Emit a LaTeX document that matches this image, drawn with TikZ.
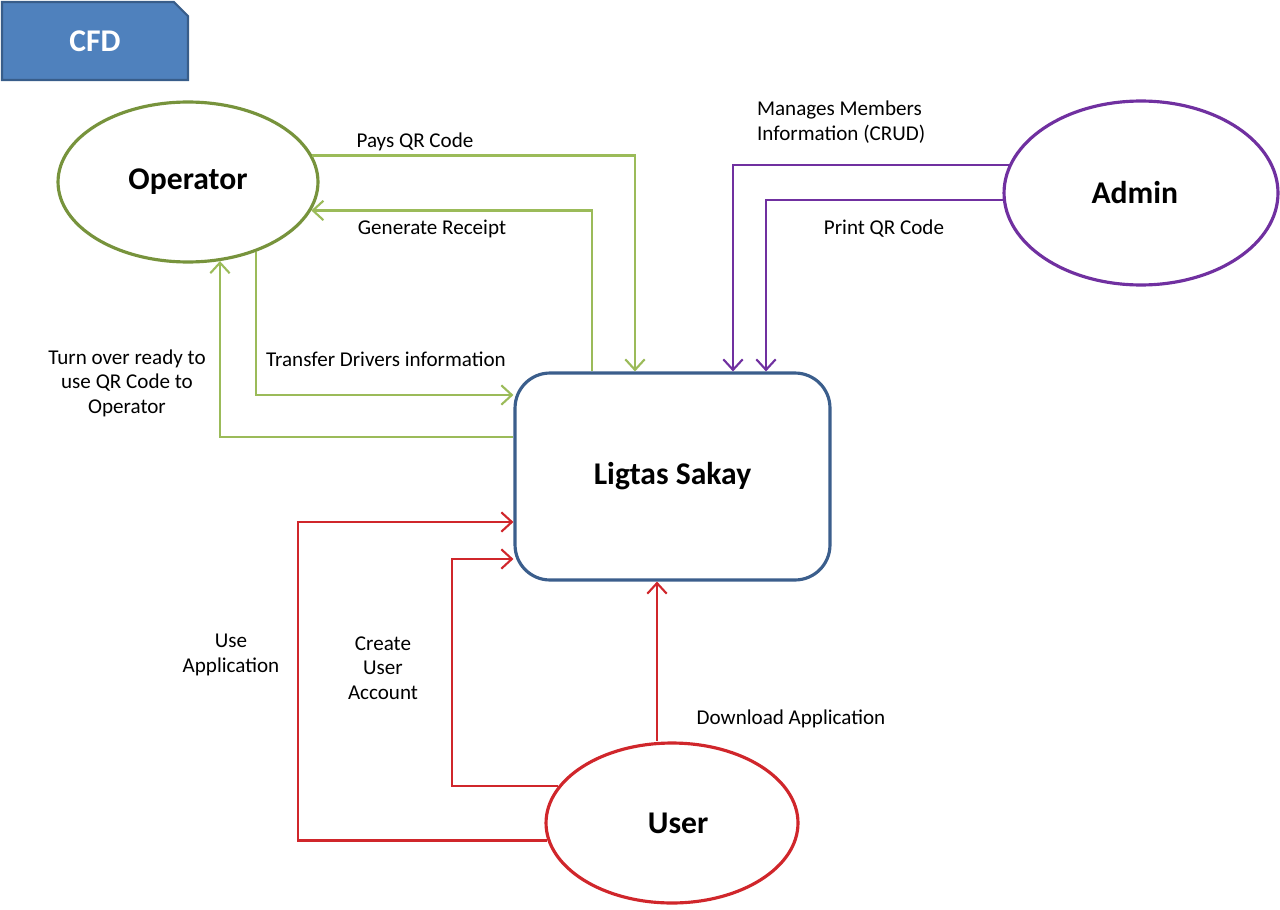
\documentclass[tikz,border=0pt]{standalone}
\usepackage{fontspec}
\setmainfont{Carlito}
\usetikzlibrary{shapes.geometric, shapes.misc, arrows.meta, positioning}
\usepackage{xcolor}
\definecolor{tabBlue}{HTML}{4F81BD}
\definecolor{tabEdge}{HTML}{385D8A}
\definecolor{boxEdge}{HTML}{3B5E8C}
\definecolor{opGreen}{HTML}{77933C}
\definecolor{lineGreen}{HTML}{9BBB59}
\definecolor{admPurple}{HTML}{7030A0}
\definecolor{usrRed}{HTML}{D0262B}
\tikzset{
    >={Straight Barb[length=6pt, width=11pt]},
    % Shapes
    tab/.style={chamfered rectangle, chamfered rectangle corners=north east,
                chamfered rectangle xsep=0.14cm, chamfered rectangle ysep=0.14cm,
                draw=tabEdge, fill=tabBlue, line width=1.2pt, inner sep=0pt,
                minimum width=3.72cm, minimum height=1.56cm,
                text=white, font=\bfseries\fontsize{18}{22}\selectfont},
    ent/.style={ellipse, line width=1.8pt, inner sep=0pt, fill=white,
                font=\bfseries\fontsize{18}{22}\selectfont},
    proc/.style={rectangle, rounded corners=0.7cm, draw=boxEdge, line width=1.8pt,
                 minimum width=6.3cm, minimum height=4.14cm,
                 font=\bfseries\fontsize{18}{22}\selectfont},
    % Flow & Labels
    flow/.style={->, line width=1.2pt},
    gflow/.style={flow, draw=lineGreen},
    pflow/.style={flow, draw=admPurple},
    rflow/.style={flow, draw=usrRed},
    lbl/.style={font=\fontsize{12}{13.9}\selectfont, align=center, inner sep=1pt}
}

\begin{document}
\begin{tikzpicture}[x=0.02cm, y=-0.02cm]
\useasboundingbox (0,0) rectangle (1280,909);

\node[tab] (cfd) at (95,41) {CFD};

\node[proc] (ls) at (672.5,476.5) {Ligtas Sakay};
\node[ent, draw=opGreen, minimum width=5.2cm, minimum height=3.2cm] (op) at (188,182) {Operator};
\node[ent, draw=admPurple, minimum width=5.48cm, minimum height=3.68cm] (adm) at (1141,193) {\hspace{-7pt}Admin};
\node[ent, draw=usrRed, minimum width=5.04cm, minimum height=3.2cm] (usr) at (672,823) {\hspace{7pt}User};

% operator flows
\draw[gflow] (op.12) -| (ls.north -| 635,0);
\draw[gflow] (ls.north -| 592,0) |- (op.-13);
\draw[gflow] (op.-46) |- (ls.west |- 0,395);
\draw[gflow] (ls.west |- 0,437) -| (op.-68);

% admin flows
\draw[pflow] (adm.168) -| (ls.north -| 733,0);
\draw[pflow] (adm.183) -| (ls.north -| 766,0);

% user flows
\draw[rflow] (usr.188) -| (298,522) -- (ls.west |- 0,522);
\draw[rflow] (usr.162) -| (452,559) -- (ls.west |- 0,559);
\draw[rflow] (usr.north -| 657,0) -- (ls.south -| 657,0);

\node[lbl] (lPays) at (415,142) {Pays QR Code};
\node[lbl] (lRcpt) at (432,229) {Generate Receipt};
\node[lbl] (lXfer) at (386,359) {Transfer Drivers information};
\node[lbl] (lTurn) at (127,383) {Turn over ready to\\use QR Code to\\Operator};
\node[lbl, align=left, anchor=west] (lCrud) at (755,122) {Manages Members\\Information (CRUD)};
\node[lbl] (lPrint) at (884,229) {Print QR Code};
\node[lbl] (lUse) at (231,655) {Use\\Application};
\node[lbl] (lAcct) at (383,668) {Create\\User\\Account};
\node[lbl] (lDown) at (791,719) {Download Application};

\end{tikzpicture}
\end{document}
